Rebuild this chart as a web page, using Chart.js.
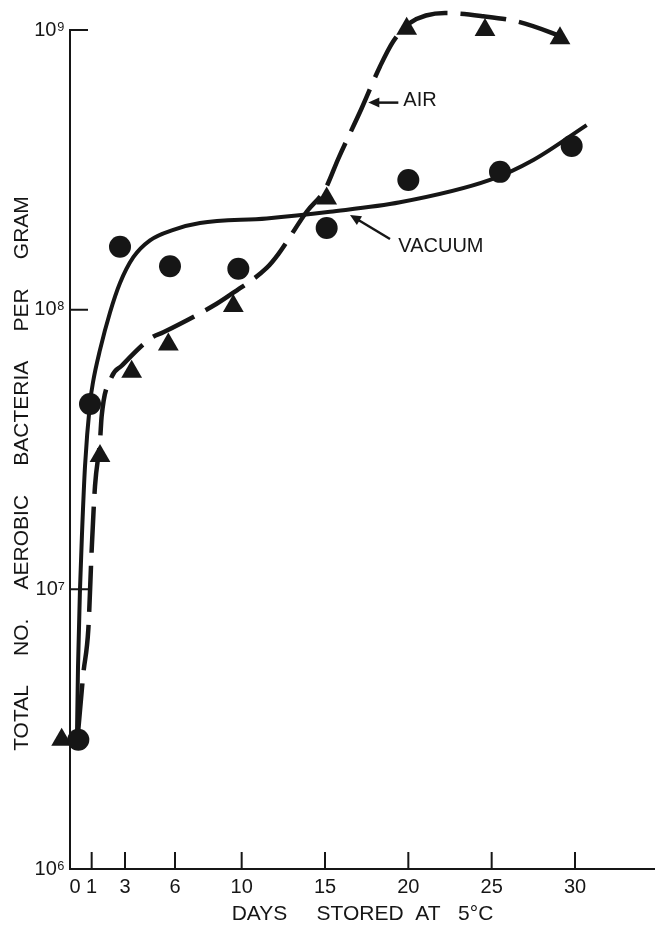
<!DOCTYPE html>
<html>
<head>
<meta charset="utf-8">
<script src="https://cdn.jsdelivr.net/npm/chart.js@4.4.1/dist/chart.umd.min.js"></script>
<style>
  html, body { margin: 0; padding: 0; background: #fff; }
</style>
</head>
<body>
<canvas id="chart" width="655" height="927"></canvas>
<script>
// axis ticks
const dayTicks = [0, 1, 3, 6, 10, 15, 20, 25, 30];
const countTicks = [1e6, 1e7, 1e8, 1e9];
const countTickLabels = ["10⁶", "10⁷", "10⁸", "10⁹"];

// measured counts (circles = vacuum, triangles = air)
const vacuumDays = [0.2, 0.9, 2.7, 5.7, 9.8, 15.1, 20.0, 25.5, 29.8];
const vacuumCounts = [2.9e6, 4.6e7, 1.68e8, 1.43e8, 1.40e8, 1.96e8, 2.91e8, 3.11e8, 3.85e8];
const airDays = [-0.8, 1.5, 3.4, 5.6, 9.5, 15.1, 19.9, 24.6, 29.1];
const airCounts = [2.9e6, 3.0e7, 6.0e7, 7.5e7, 1.03e8, 2.5e8, 1.01e9, 1.0e9, 9.35e8];

// hand-fitted growth curves
const vacuumCurveDays = [0.12, 0.18, 0.3, 0.42, 0.6, 0.9, 1.08, 1.5, 2.1, 2.7, 3.5, 4.5, 5.9, 7.5, 11.5, 15.3, 19.5, 24.9, 27.5, 30.7];
const vacuumCurveCounts = [3.06e6, 5.25e6, 1.0e7, 1.58e7, 2.75e7, 4.63e7, 5.5e7, 7.18e7, 9.77e7, 1.245e8, 1.54e8, 1.77e8, 1.93e8, 2.04e8, 2.12e8, 2.24e8, 2.42e8, 2.91e8, 3.43e8, 4.57e8];
const airCurveDays = [0.2, 0.5, 0.8, 1.0, 1.2, 1.5, 1.6, 2.2, 2.8, 4.6, 5.3, 8.5, 9.5, 11.5, 12.2, 13.9, 15.0, 15.8, 17.2, 18.3, 19.1, 20.1, 22.2, 24.5, 26.6, 29.6];
const airCurveCounts = [3.16e6, 5.0e6, 7.2e6, 1.38e7, 2.34e7, 3.39e7, 4.17e7, 5.75e7, 6.3e7, 7.94e7, 8.3e7, 1.05e8, 1.15e8, 1.41e8, 1.58e8, 2.24e8, 2.69e8, 3.47e8, 5.25e8, 7.41e8, 9.12e8, 1.06e9, 1.15e9, 1.12e9, 1.07e9, 9.3e8];

const ink = '#161616';
const family = '"Liberation Sans", Arial, sans-serif';

const toXY = (xs, ys) => xs.map((x, i) => ({ x: x, y: ys[i] }));

function arrow(ctx, x1, y1, x2, y2) {
  const ang = Math.atan2(y2 - y1, x2 - x1);
  const len = 11, half = 5;
  ctx.beginPath();
  ctx.moveTo(x1, y1);
  ctx.lineTo(x2 - Math.cos(ang) * len * 0.8, y2 - Math.sin(ang) * len * 0.8);
  ctx.stroke();
  ctx.beginPath();
  ctx.moveTo(x2, y2);
  ctx.lineTo(x2 - Math.cos(ang) * len - Math.sin(ang) * half, y2 - Math.sin(ang) * len + Math.cos(ang) * half);
  ctx.lineTo(x2 - Math.cos(ang) * len + Math.sin(ang) * half, y2 - Math.sin(ang) * len - Math.cos(ang) * half);
  ctx.closePath();
  ctx.fill();
}

// inward tick marks, rotated y title and the curve labels
const marks = {
  id: 'marks',
  beforeDatasetsDraw(chart) {
    const { ctx, chartArea: a, scales: { x, y } } = chart;
    ctx.save();
    ctx.strokeStyle = ink;
    ctx.lineWidth = 2;
    ctx.beginPath();
    dayTicks.forEach(d => {
      if (d === 0) return;
      const px = x.getPixelForValue(d);
      ctx.moveTo(px, a.bottom);
      ctx.lineTo(px, a.bottom - 17);
    });
    countTicks.slice(1).forEach(v => {
      const py = y.getPixelForValue(v);
      ctx.moveTo(a.left, py);
      ctx.lineTo(a.left + 18, py);
    });
    ctx.stroke();
    ctx.restore();
  },
  afterDraw(chart) {
    const { ctx, chartArea: a, scales: { x, y } } = chart;
    ctx.save();
    ctx.fillStyle = ink;
    ctx.strokeStyle = ink;

    // y axis title
    ctx.save();
    ctx.translate(22, (a.top + a.bottom) / 2 + 24);
    ctx.rotate(-Math.PI / 2);
    ctx.font = '21px ' + family;
    ctx.textAlign = 'center';
    ctx.textBaseline = 'middle';
    ctx.fillText('TOTAL     NO.     AEROBIC     BACTERIA     PER     GRAM', 0, 0);
    ctx.restore();

    // curve labels
    ctx.lineWidth = 2.5;
    ctx.font = '20px ' + family;
    ctx.textAlign = 'left';
    ctx.textBaseline = 'middle';
    arrow(ctx, x.getPixelForValue(19.4), y.getPixelForValue(5.5e8), x.getPixelForValue(17.6), y.getPixelForValue(5.5e8));
    ctx.fillText('AIR', x.getPixelForValue(19.7), y.getPixelForValue(5.5e8) - 2);
    arrow(ctx, x.getPixelForValue(18.9), y.getPixelForValue(1.79e8), x.getPixelForValue(16.5), y.getPixelForValue(2.18e8));
    ctx.fillText('VACUUM', x.getPixelForValue(19.4), y.getPixelForValue(1.68e8));
    ctx.restore();
  }
};

new Chart(document.getElementById('chart'), {
  type: 'scatter',
  data: {
    datasets: [
      {
        label: 'Vacuum',
        data: toXY(vacuumDays, vacuumCounts),
        pointStyle: 'circle',
        pointRadius: 11,
        backgroundColor: ink,
        borderWidth: 0,
        order: 0,
        clip: false
      },
      {
        label: 'Air',
        data: toXY(airDays, airCounts),
        pointStyle: 'triangle',
        pointRadius: 12,
        backgroundColor: ink,
        borderWidth: 0,
        order: 0,
        clip: false
      },
      {
        label: 'Vacuum fit',
        data: toXY(vacuumCurveDays, vacuumCurveCounts),
        showLine: true,
        pointRadius: 0,
        borderColor: ink,
        borderWidth: 4,
        cubicInterpolationMode: 'monotone',
        order: 1,
        clip: false
      },
      {
        label: 'Air fit',
        data: toXY(airCurveDays, airCurveCounts),
        showLine: true,
        pointRadius: 0,
        borderColor: ink,
        borderWidth: 4.5,
        borderDash: [46, 13],
        cubicInterpolationMode: 'monotone',
        order: 1,
        clip: false
      }
    ]
  },
  options: {
    responsive: false,
    animation: false,
    layout: { autoPadding: false, padding: { top: 30, right: 0, bottom: 0, left: 0 } },
    plugins: { legend: { display: false }, tooltip: { enabled: false } },
    scales: {
      x: {
        type: 'linear',
        min: -0.3,
        max: 34.8,
        afterFit(s) { s.height = 58; },
        afterBuildTicks(s) { s.ticks = dayTicks.map(v => ({ value: v })); },
        ticks: {
          autoSkip: false,
          maxRotation: 0,
          color: ink,
          padding: 6,
          font: { family: family, size: 20 },
          callback: v => String(v)
        },
        grid: { display: false, drawTicks: false },
        border: { display: true, color: ink, width: 2 },
        title: {
          display: true,
          text: 'DAYS     STORED  AT   5°C',
          color: ink,
          font: { family: family, size: 21 },
          padding: { top: 0, bottom: 0 }
        }
      },
      y: {
        type: 'logarithmic',
        min: 1e6,
        max: 1e9,
        afterFit(s) { s.width = 70; },
        afterBuildTicks(s) { s.ticks = countTicks.map(v => ({ value: v })); },
        ticks: {
          color: ink,
          padding: 5,
          font: { family: family, size: 20 },
          callback: (v, i) => countTickLabels[i]
        },
        grid: { display: false, drawTicks: false },
        border: { display: true, color: ink, width: 2 }
      }
    }
  },
  plugins: [marks]
});
</script>
</body>
</html>
